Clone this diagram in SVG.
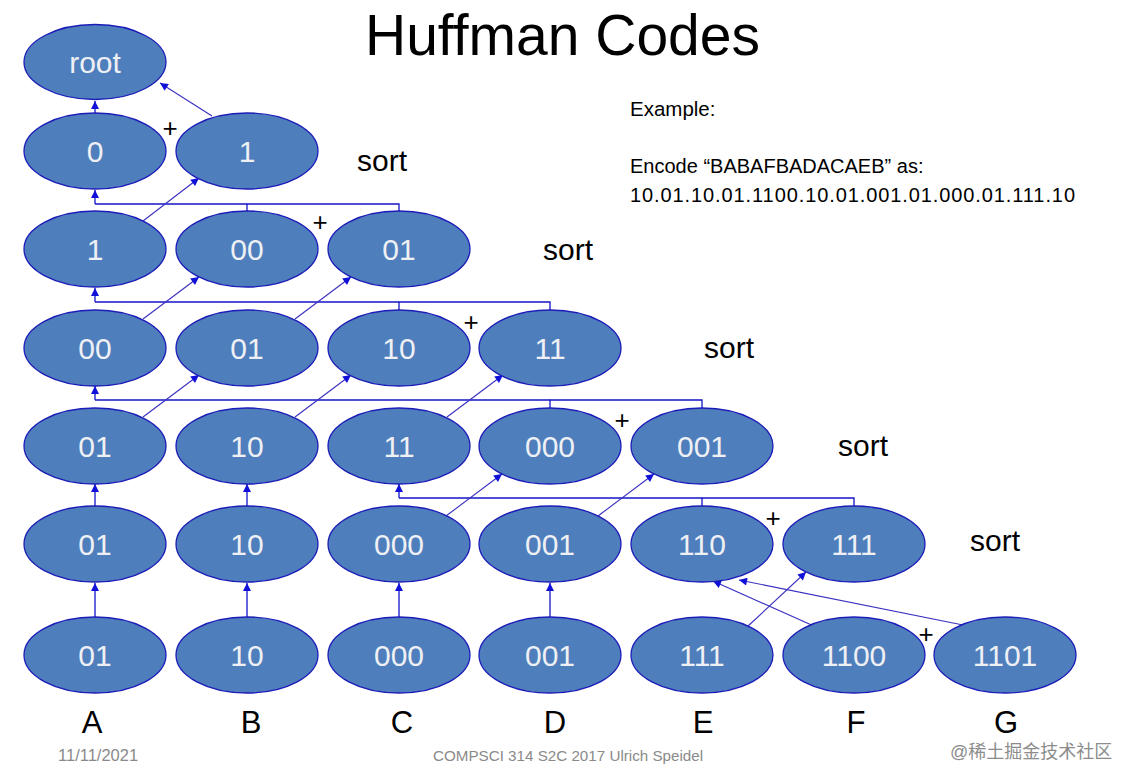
<svg xmlns="http://www.w3.org/2000/svg" width="1133" height="784" viewBox="0 0 1133 784">
<defs>
<marker id="ah" viewBox="0 0 10 10" refX="10" refY="5" markerWidth="9" markerHeight="8" markerUnits="userSpaceOnUse" orient="auto">
<path d="M0,0 L10,5 L0,10 z" fill="#1010d8"/>
</marker>
<style>
.n ellipse{fill:#4f7ebc;stroke:#1c1cb8;stroke-width:1.3}
.n text{font-family:"Liberation Sans",Arial,sans-serif;font-size:30px;fill:#eef0f4;text-anchor:middle;dominant-baseline:central}
.c line,.c polyline{stroke:#1414c8;stroke-width:1.3;fill:none}
.c .d{stroke:#3a2fc0;stroke-width:1.1}
.t{font-family:"Liberation Sans",Arial,sans-serif;fill:#000}
.s{font-size:30px;dominant-baseline:central}
.p{font-size:26px;text-anchor:middle;dominant-baseline:central}
.l{font-size:31px;text-anchor:middle}
.f{font-family:"Liberation Sans",Arial,sans-serif;fill:#8a8a8a}
</style>
</defs>
<rect width="1133" height="784" fill="#fff"/>
<text class="t" x="365" y="55" font-size="57">Huffman Codes</text>
<text class="t" x="630" y="116" font-size="20.5">Example:</text>
<text class="t" x="630" y="173" font-size="20">Encode “BABAFBADACAEB” as:</text>
<text class="t" x="630" y="202" font-size="20" textLength="445" lengthAdjust="spacing">10.01.10.01.1100.10.01.001.01.000.01.111.10</text>

<g id="connectors" class="c">
<line x1="95" y1="113" x2="95" y2="101" marker-end="url(#ah)"/>
<line class="d" x1="212" y1="116" x2="160" y2="83" marker-end="url(#ah)"/>
<polyline points="247,211 247,204 399,204 399,211"/>
<line x1="95" y1="204" x2="247" y2="204"/>
<line x1="95" y1="204" x2="95" y2="190" marker-end="url(#ah)"/>
<line class="d" x1="143" y1="221" x2="199" y2="178" marker-end="url(#ah)"/>
<polyline points="399,310 399,302 550,302 550,310"/>
<line x1="95" y1="302" x2="399" y2="302"/>
<line x1="95" y1="302" x2="95" y2="288" marker-end="url(#ah)"/>
<line class="d" x1="143" y1="319" x2="199" y2="277" marker-end="url(#ah)"/>
<line class="d" x1="295" y1="319" x2="351" y2="277" marker-end="url(#ah)"/>
<polyline points="550,408 550,400 702,400 702,408"/>
<line x1="95" y1="400" x2="550" y2="400"/>
<line x1="95" y1="400" x2="95" y2="386" marker-end="url(#ah)"/>
<line class="d" x1="143" y1="417" x2="199" y2="375" marker-end="url(#ah)"/>
<line class="d" x1="295" y1="417" x2="351" y2="375" marker-end="url(#ah)"/>
<line class="d" x1="447" y1="417" x2="503" y2="375" marker-end="url(#ah)"/>
<polyline points="702,506 702,498 854,498 854,506"/>
<line x1="399" y1="498" x2="702" y2="498"/>
<line x1="399" y1="498" x2="399" y2="484" marker-end="url(#ah)"/>
<line x1="95" y1="506" x2="95" y2="484" marker-end="url(#ah)"/>
<line x1="247" y1="506" x2="247" y2="484" marker-end="url(#ah)"/>
<line class="d" x1="446" y1="516" x2="502" y2="474" marker-end="url(#ah)"/>
<line class="d" x1="598" y1="516" x2="654" y2="474" marker-end="url(#ah)"/>
<line x1="95" y1="617" x2="95" y2="583" marker-end="url(#ah)"/>
<line x1="247" y1="617" x2="247" y2="583" marker-end="url(#ah)"/>
<line x1="399" y1="617" x2="399" y2="583" marker-end="url(#ah)"/>
<line x1="550" y1="617" x2="550" y2="583" marker-end="url(#ah)"/>
<line class="d" x1="747" y1="627" x2="806" y2="572" marker-end="url(#ah)"/>
<line class="d" x1="816" y1="627" x2="713" y2="581" marker-end="url(#ah)"/>
<line class="d" x1="968" y1="626" x2="739" y2="580" marker-end="url(#ah)"/>
</g>

<g id="root" class="n"><ellipse cx="95" cy="62" rx="71" ry="37.5"/><text x="95" y="62">root</text></g>

<g id="r1-0" class="n"><ellipse cx="95" cy="151" rx="71" ry="38"/><text x="95" y="151">0</text></g>
<g id="r1-1" class="n"><ellipse cx="247" cy="151" rx="71" ry="38"/><text x="247" y="151">1</text></g>

<g id="r2-1" class="n"><ellipse cx="95" cy="249" rx="71" ry="38"/><text x="95" y="249">1</text></g>
<g id="r2-00" class="n"><ellipse cx="247" cy="249" rx="71" ry="38"/><text x="247" y="249">00</text></g>
<g id="r2-01" class="n"><ellipse cx="399" cy="249" rx="71" ry="38"/><text x="399" y="249">01</text></g>

<g id="r3-00" class="n"><ellipse cx="95" cy="348" rx="71" ry="38"/><text x="95" y="348">00</text></g>
<g id="r3-01" class="n"><ellipse cx="247" cy="348" rx="71" ry="38"/><text x="247" y="348">01</text></g>
<g id="r3-10" class="n"><ellipse cx="399" cy="348" rx="71" ry="38"/><text x="399" y="348">10</text></g>
<g id="r3-11" class="n"><ellipse cx="550" cy="348" rx="71" ry="38"/><text x="550" y="348">11</text></g>

<g id="r4-01" class="n"><ellipse cx="95" cy="446" rx="71" ry="38"/><text x="95" y="446">01</text></g>
<g id="r4-10" class="n"><ellipse cx="247" cy="446" rx="71" ry="38"/><text x="247" y="446">10</text></g>
<g id="r4-11" class="n"><ellipse cx="399" cy="446" rx="71" ry="38"/><text x="399" y="446">11</text></g>
<g id="r4-000" class="n"><ellipse cx="550" cy="446" rx="71" ry="38"/><text x="550" y="446">000</text></g>
<g id="r4-001" class="n"><ellipse cx="702" cy="446" rx="71" ry="38"/><text x="702" y="446">001</text></g>

<g id="r5-01" class="n"><ellipse cx="95" cy="544" rx="71" ry="38"/><text x="95" y="544">01</text></g>
<g id="r5-10" class="n"><ellipse cx="247" cy="544" rx="71" ry="38"/><text x="247" y="544">10</text></g>
<g id="r5-000" class="n"><ellipse cx="399" cy="544" rx="71" ry="38"/><text x="399" y="544">000</text></g>
<g id="r5-001" class="n"><ellipse cx="550" cy="544" rx="71" ry="38"/><text x="550" y="544">001</text></g>
<g id="r5-110" class="n"><ellipse cx="702" cy="544" rx="71" ry="38"/><text x="702" y="544">110</text></g>
<g id="r5-111" class="n"><ellipse cx="854" cy="544" rx="71" ry="38"/><text x="854" y="544">111</text></g>

<g id="r6-A" class="n"><ellipse cx="95" cy="655" rx="71" ry="38"/><text x="95" y="655">01</text></g>
<g id="r6-B" class="n"><ellipse cx="247" cy="655" rx="71" ry="38"/><text x="247" y="655">10</text></g>
<g id="r6-C" class="n"><ellipse cx="399" cy="655" rx="71" ry="38"/><text x="399" y="655">000</text></g>
<g id="r6-D" class="n"><ellipse cx="550" cy="655" rx="71" ry="38"/><text x="550" y="655">001</text></g>
<g id="r6-E" class="n"><ellipse cx="702" cy="655" rx="71" ry="38"/><text x="702" y="655">111</text></g>
<g id="r6-F" class="n"><ellipse cx="854" cy="655" rx="71" ry="38"/><text x="854" y="655">1100</text></g>
<g id="r6-G" class="n"><ellipse cx="1005" cy="655" rx="71" ry="38"/><text x="1005" y="655">1101</text></g>

<g id="plus" class="t">
<text class="p" x="170" y="128">+</text>
<text class="p" x="320" y="222">+</text>
<text class="p" x="471" y="322">+</text>
<text class="p" x="622" y="420">+</text>
<text class="p" x="773" y="518">+</text>
<text class="p" x="926" y="634">+</text>
</g>
<g id="sort" class="t">
<text class="s" x="357" y="160">sort</text>
<text class="s" x="543" y="249">sort</text>
<text class="s" x="704" y="347">sort</text>
<text class="s" x="838" y="445">sort</text>
<text class="s" x="970" y="540">sort</text>
</g>
<g id="letters" class="t">
<text class="l" x="92" y="733">A</text>
<text class="l" x="251" y="733">B</text>
<text class="l" x="402" y="733">C</text>
<text class="l" x="555" y="733">D</text>
<text class="l" x="703" y="733">E</text>
<text class="l" x="856" y="733">F</text>
<text class="l" x="1006" y="733">G</text>
</g>
<text class="f" x="58" y="761" font-size="16.5">11/11/2021</text>
<text class="f" x="433" y="761" font-size="15.2">COMPSCI 314 S2C 2017 Ulrich Speidel</text>
<text x="950" y="758" font-family="Liberation Sans, Noto Sans CJK SC, sans-serif" font-size="18" fill="#8c8c8c">@稀土掘金技术社区</text>
</svg>
